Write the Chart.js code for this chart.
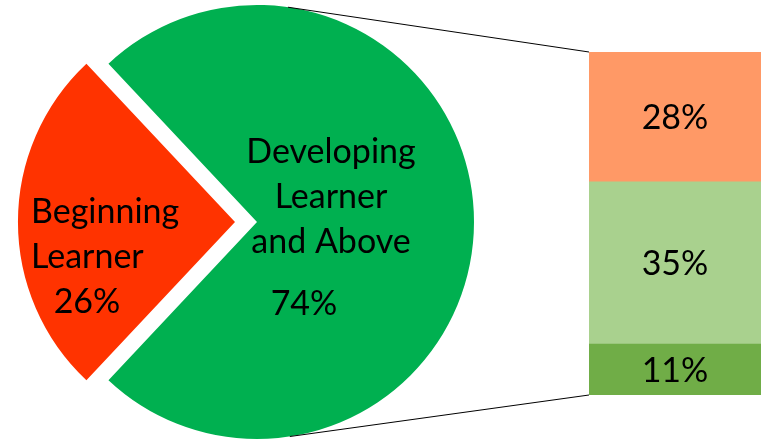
<!DOCTYPE html>
<html><head><meta charset="utf-8">
<script src="https://cdn.jsdelivr.net/npm/chart.js@4"></script>
<style>
html,body{margin:0;padding:0;background:#fff;overflow:hidden}
#wrap{position:relative;width:763px;height:439px}
canvas{position:absolute;left:0;top:0}
</style></head><body>
<div id="wrap"><canvas id="pie" width="763" height="439"></canvas><canvas id="bar" width="763" height="439"></canvas></div>
<script>
const pieCategories = ['Beginning Learner', 'Developing Learner and Above'];
const pieValues = [26, 74];
const pieColors = ['#FF3300', '#00B050'];
const barValues = [11, 35, 28]; // stacked bottom to top, breakdown of 74%
const barColors = ['#70AD47', '#A9D18E', '#FF9966'];

const FONT = '34px Lato, "Open Sans", sans-serif';

const pieLabelPlugin = {
  id: 'pieLabels',
  afterDatasetsDraw(chart) {
    const meta = chart.getDatasetMeta(0);
    const red = meta.data[0], green = meta.data[1];
    const ctx = chart.ctx;
    const mid = (red.startAngle + red.endAngle) / 2;
    const shift = (red.options.offset || 0) / 4;
    const rx = red.x + Math.cos(mid) * shift, ry = red.y + Math.sin(mid) * shift;
    ctx.save();
    ctx.font = FONT;
    ctx.fillStyle = '#000';
    ctx.textBaseline = 'alphabetic';
    // red slice label
    ctx.textAlign = 'left';
    ctx.fillText('Beginning', rx - 204, ry + 1);
    ctx.fillText('Learner', rx - 204, ry + 46);
    ctx.textAlign = 'center';
    ctx.fillText(pieValues[0] + '%', rx - 148, ry + 91);
    // green slice label
    const gx = green.x, gy = green.y;
    ctx.fillText('Developing', gx + 74, gy - 59);
    ctx.fillText('Learner', gx + 74, gy - 14);
    ctx.fillText('and Above', gx + 74, gy + 31);
    ctx.fillText(pieValues[1] + '%', gx + 47, gy + 93);
    ctx.restore();
  }
};

const pieChart = new Chart(document.getElementById('pie'), {
  type: 'pie',
  data: {
    labels: pieCategories,
    datasets: [{
      data: pieValues,
      backgroundColor: pieColors,
      borderWidth: 0,
      offset: [88, 0],
      hoverOffset: 0
    }]
  },
  options: {
    responsive: false,
    animation: false,
    events: [],
    rotation: 90 + 180 - pieValues[0] / 100 * 180,
    radius: 217,
    layout: { padding: { left: 0, right: 249, top: 5, bottom: 0 } },
    plugins: { legend: { display: false }, tooltip: { enabled: false } }
  },
  plugins: [pieLabelPlugin]
});

const barPlugin = {
  id: 'barExtras',
  afterDraw(chart) {
    const ctx = chart.ctx;
    ctx.save();
    ctx.font = FONT;
    ctx.fillStyle = '#000';
    ctx.textAlign = 'center';
    ctx.textBaseline = 'alphabetic';
    const capH = ctx.measureText('0').actualBoundingBoxAscent;
    chart.data.datasets.forEach((ds, i) => {
      const el = chart.getDatasetMeta(i).data[0];
      const cy = (el.y + el.base) / 2;
      ctx.fillText(ds.data[0] + '%', el.x, cy + capH / 2);
    });
    // connector lines
    const topEl = chart.getDatasetMeta(chart.data.datasets.length - 1).data[0];
    const botEl = chart.getDatasetMeta(0).data[0];
    const left = topEl.x - topEl.width / 2;
    const g = pieChart.getDatasetMeta(0).data[1];
    const r = g.outerRadius;
    const a1 = -81.8 * Math.PI / 180, a2 = 81.3 * Math.PI / 180;
    ctx.strokeStyle = '#000';
    ctx.lineWidth = 1;
    ctx.beginPath();
    ctx.moveTo(g.x + r * Math.cos(a1), g.y + r * Math.sin(a1));
    ctx.lineTo(left, topEl.y);
    ctx.moveTo(g.x + r * Math.cos(a2), g.y + r * Math.sin(a2));
    ctx.lineTo(left, botEl.base);
    ctx.stroke();
    ctx.restore();
  }
};

new Chart(document.getElementById('bar'), {
  type: 'bar',
  data: {
    labels: ['Developing Learner and Above'],
    datasets: barValues.map((v, i) => ({
      data: [v],
      backgroundColor: barColors[i],
      borderWidth: 0,
      barPercentage: 1,
      categoryPercentage: 1
    }))
  },
  options: {
    responsive: false,
    animation: false,
    events: [],
    layout: { padding: { left: 589, right: 2, top: 52, bottom: 44 } },
    scales: {
      x: { stacked: true, display: false },
      y: { stacked: true, display: false, min: 0, max: barValues.reduce((a, b) => a + b, 0) }
    },
    plugins: { legend: { display: false }, tooltip: { enabled: false } }
  },
  plugins: [barPlugin]
});
</script>
</body></html>
